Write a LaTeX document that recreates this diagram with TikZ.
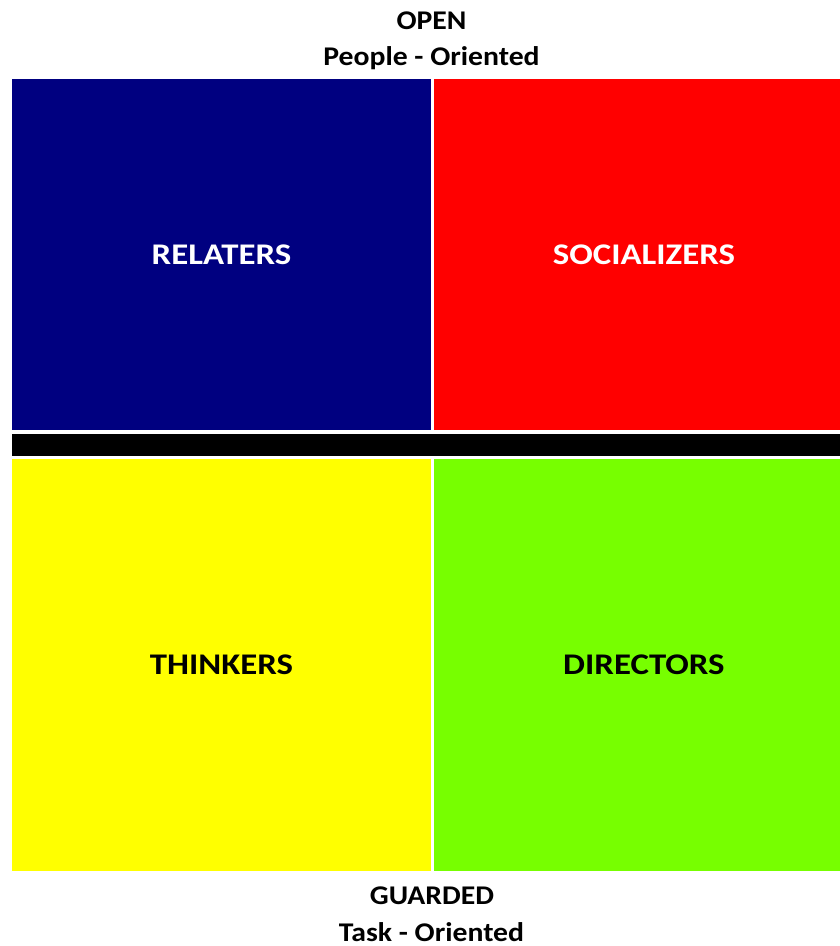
\documentclass[tikz,border=0pt]{standalone}
\usepackage{fontspec}
\setmainfont{Carlito}
\newfontfamily\quadfont{Carlito}[FakeStretch=1.16]
\newfontfamily\axisfont{Carlito}[FakeStretch=1.1]
\usetikzlibrary{positioning}
\definecolor{relblue}{RGB}{0,0,128}
\definecolor{socred}{RGB}{255,0,0}
\definecolor{thinkyellow}{RGB}{255,255,0}
\definecolor{dirgreen}{RGB}{119,255,0}
\begin{document}
\begin{tikzpicture}
    [ x=1pt, y=-1pt
    , quad/.style={minimum width=419pt, inner sep=0pt, font=\quadfont\fontsize{30}{36}\selectfont\bfseries}
    , axis/.style={anchor=base, inner sep=0pt, font=\axisfont\fontsize{27}{32}\selectfont\bfseries}
    ]
\useasboundingbox (0,0) rectangle (839,946);
\node[quad, fill=relblue, text=white, minimum height=351pt] (relaters) at (221.5,254.5) {RELATERS};
\node[quad, fill=socred, text=white, minimum height=351pt, right=3pt of relaters] (socializers) {SOCIALIZERS};
\node[fill=black, inner sep=0pt, minimum width=841pt, minimum height=22pt, anchor=north west] (bar) at (12,433.7) {};
\node[quad, fill=thinkyellow, minimum height=412pt, anchor=north] (thinkers) at (221.5,459) {THINKERS};
\node[quad, fill=dirgreen, minimum height=412pt, right=3pt of thinkers] (directors) {DIRECTORS};
% axis labels
\node[axis] (open) at (431.5,29) {OPEN};
\node[axis] (people) at (431.5,65) {People - Oriented};
\node[axis] (guarded) at (432,904) {GUARDED};
\node[axis] (task) at (431.5,941) {Task - Oriented};
\end{tikzpicture}
\end{document}
